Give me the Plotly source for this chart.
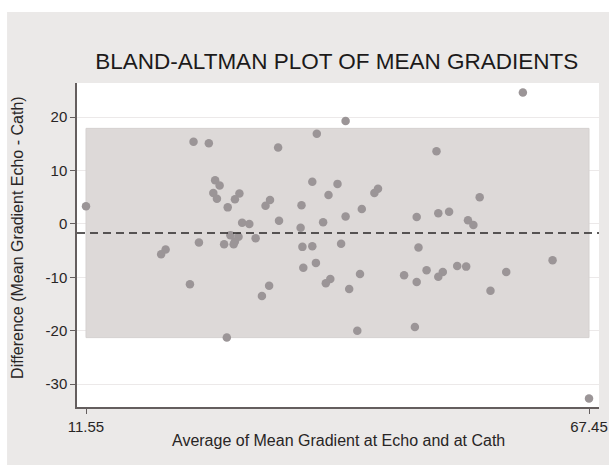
import plotly.graph_objects as go

# Average of mean gradient (echo & cath) and difference (echo - cath)
avg_gradient = [
    11.55, 23.5, 25.2, 25.9, 25.7, 24.1, 20.4, 19.9, 23.1, 26.4,
    26.1, 28.6, 28.1, 27.3, 32.9, 37.2, 32.0, 31.5, 28.9, 29.7,
    33.0, 36.7, 39.5, 38.5, 35.5, 37.9, 35.4, 27.6, 28.5, 28.1,
    27.96, 26.9, 30.4, 35.6, 36.7, 37.1, 35.7, 38.7, 38.2, 31.9,
    31.1, 27.2, 40.4, 42.2, 40.4, 39.9, 42.0, 40.8, 41.7, 46.9,
    44.0, 43.6, 50.5, 48.3, 50.7, 51.9, 54.0, 54.6, 48.5, 48.3,
    49.4, 51.2, 50.7, 52.8, 53.8, 48.1, 60.1, 55.3, 58.25, 56.5,
    63.4, 67.45,
]
diff_gradient = [
    3.3, 15.4, 15.1, 8.2, 5.8, -3.5, -4.8, -5.7, -11.3, 7.2,
    4.7, 5.7, 4.6, 3.1, 14.3, 16.9, 4.5, 3.4, 0.2, 0.0,
    0.6, 7.9, 7.5, 5.4, 3.5, 0.3, -0.7, -2.1, -2.4, -3.3,
    -3.8, -3.8, -2.7, -4.3, -4.2, -7.3, -8.2, -10.3, -11.1, -11.6,
    -13.5, -21.3, 19.3, 2.8, 1.4, -3.7, -9.4, -12.2, -20.0, -9.6,
    6.6, 5.8, 13.6, 1.3, 2.0, 2.3, 0.7, -0.2, -4.4, -10.9,
    -8.7, -9.0, -9.9, -7.9, -8.0, -19.3, 24.6, 5.0, -9.0, -12.5,
    -6.8, -32.7,
]

# Bias and limits of agreement as drawn
mean_diff = -1.7
upper_loa = 17.9
lower_loa = -21.3

y_ticks = [-30, -20, -10, 0, 10, 20]
y_ticklabels = ['-30', '-20', '-10', '0', '10', '20']
x_ticks = [11.55, 67.45]
x_ticklabels = ['11.55', '67.45']

x_min = min(avg_gradient)
x_max = max(avg_gradient)

font_family = 'Liberation Sans, Arial, Helvetica, sans-serif'
bg_grey = 'rgb(235,233,232)'
band_grey = 'rgb(221,217,216)'
dot_grey = 'rgb(155,149,151)'
axis_grey = 'rgb(100,94,94)'
text_col = 'rgb(40,37,37)'

fig = go.Figure()

# Scatter of points
fig.add_trace(go.Scatter(
    x=avg_gradient,
    y=diff_gradient,
    mode='markers',
    marker=dict(size=8.5, color=dot_grey, line=dict(width=0)),
    showlegend=False,
    hoverinfo='x+y',
))

shapes = [
    # thin white strips at top and left of the grey panel
    dict(type='rect', xref='paper', yref='paper',
         x0=-0.2, x1=1.1, y0=1.219, y1=1.3,
         fillcolor='white', line=dict(width=0), layer='below'),
    dict(type='rect', xref='paper', yref='paper',
         x0=-0.2, x1=-0.134, y0=-0.3, y1=1.3,
         fillcolor='white', line=dict(width=0), layer='below'),
    # limits of agreement band
    dict(type='rect', xref='x', yref='y',
         x0=x_min, x1=x_max, y0=lower_loa, y1=upper_loa,
         fillcolor=band_grey, line=dict(width=1, color='rgb(213,209,208)'),
         layer='between'),
    # mean difference
    dict(type='line', xref='paper', yref='y',
         x0=0, x1=1, y0=mean_diff, y1=mean_diff,
         line=dict(color='rgb(40,38,38)', width=1.6, dash='8px,5px'),
         layer='above'),
]

annotations = [
    dict(text='Difference (Mean Gradient Echo - Cath)', xref='paper', yref='paper',
         x=-0.113, y=0.522, textangle=-90, showarrow=False,
         font=dict(size=16, color=text_col, family=font_family),
         xanchor='center', yanchor='middle'),
    dict(text='Average of Mean Gradient at Echo and at Cath', xref='paper', yref='paper',
         x=0.5, y=-0.102, showarrow=False,
         font=dict(size=16, color=text_col, family=font_family),
         xanchor='center', yanchor='middle'),
]

fig.update_layout(
    width=609,
    height=465,
    margin=dict(l=77, r=10, t=83, b=58),
    paper_bgcolor=bg_grey,
    plot_bgcolor='white',
    font=dict(family=font_family, color=text_col),
    title=dict(
        text='BLAND-ALTMAN PLOT OF MEAN GRADIENTS',
        x=0.553, xanchor='center',
        y=0.868, yanchor='middle',
        font=dict(size=22.5, color='rgb(28,26,26)', family=font_family),
    ),
    shapes=shapes,
    annotations=annotations,
)

fig.update_xaxes(
    range=[10.55, 68.56],
    tickmode='array',
    tickvals=x_ticks,
    ticktext=x_ticklabels,
    ticks='outside',
    ticklen=5,
    tickcolor=axis_grey,
    showgrid=False,
    zeroline=False,
    showline=True,
    linecolor=axis_grey,
    linewidth=1.5,
    automargin=False,
    ticklabeloverflow='allow',
    tickfont=dict(size=15, color=text_col),
)

fig.update_yaxes(
    range=[-34.3, 26.4],
    tickmode='array',
    tickvals=y_ticks,
    ticktext=y_ticklabels,
    ticks='outside',
    ticklen=5,
    tickcolor=axis_grey,
    showgrid=True,
    gridcolor='rgb(236,233,233)',
    gridwidth=1,
    zeroline=False,
    showline=True,
    linecolor=axis_grey,
    linewidth=1.5,
    automargin=False,
    tickfont=dict(size=15, color=text_col),
)

fig.write_html(
    "out.html",
    config={'displayModeBar': False},
    post_script="document.body.style.margin='0';",
)
